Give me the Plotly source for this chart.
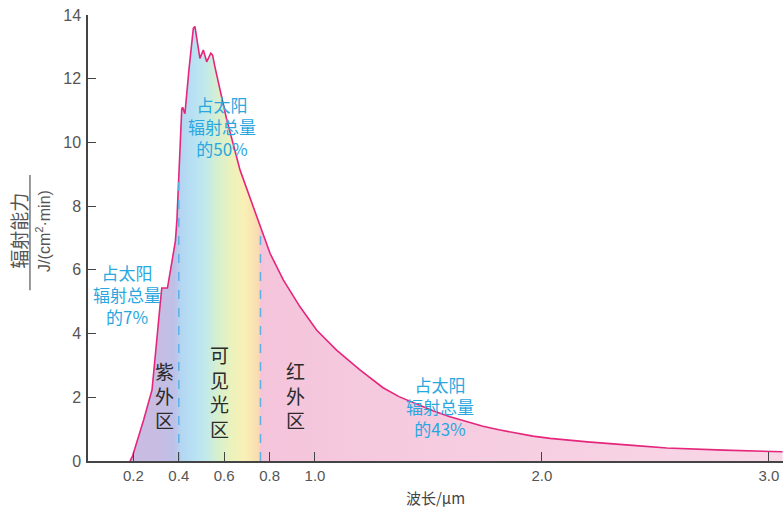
import numpy as np
import plotly.graph_objects as go

# ---- data ----
wavelength = [0.185, 0.195, 0.245, 0.282, 0.317, 0.325, 0.35, 0.369, 0.385, 0.392,
              0.405, 0.413, 0.417, 0.427, 0.445, 0.464, 0.471, 0.493, 0.508, 0.523,
              0.541, 0.549, 0.559, 0.589, 0.61, 0.67, 0.73, 0.758, 0.802, 0.861,
              0.934, 1.007, 1.095, 1.198, 1.30, 1.37, 1.448, 1.52, 1.595, 1.67,
              1.74, 1.81, 1.89, 1.96, 2.036, 2.2, 2.4, 2.55, 2.8, 3.06]
radiation = [0.0, 0.13, 1.29, 2.23, 4.85, 5.43, 5.43, 6.3, 6.9, 7.6,
             9.8, 11.05, 11.1, 10.9, 12.3, 13.58, 13.64, 12.64, 12.9, 12.53,
             12.8, 12.74, 12.38, 11.43, 10.75, 9.13, 7.95, 7.35, 6.52, 5.68,
             4.84, 4.11, 3.48, 2.86, 2.3, 2.02, 1.78, 1.58, 1.39, 1.23,
             1.09, 0.98, 0.87, 0.78, 0.71, 0.6, 0.49, 0.41, 0.34, 0.29]

x_ticks = [0.2, 0.4, 0.6, 0.8, 1.0, 2.0, 3.0]
x_ticktext = ["0.2", "0.4", "0.6", "0.8", "1.0", "2.0", "3.0"]
y_ticks = [0, 2, 4, 6, 8, 10, 12, 14]

band_bounds = [0.4, 0.76]

region_labels = ["紫<br>外<br>区", "可<br>见<br>光<br>区", "红<br>外<br>区"]
region_pos = [(0.339, 2.07), (0.58, 2.17), (0.912, 2.07)]
share_labels = ["占太阳<br>辐射总量<br>的7%", "占太阳<br>辐射总量<br>的50%", "占太阳<br>辐射总量<br>的43%"]
share_pos = [(0.172, 5.24), (0.59, 10.5), (1.55, 1.7)]

X_MAX = 3.062

# gradient stops (wavelength, colour)
grad = [(0.0, "#cbbde3"), (0.30, "#c8bce3"), (0.38, "#bec0e6"), (0.41, "#b3d6f2"),
        (0.47, "#b8e2f3"), (0.52, "#c2e9ea"), (0.57, "#d6efcf"), (0.63, "#ebf2bc"),
        (0.69, "#f9f0b6"), (0.75, "#f9dcb0"), (0.762, "#f4c4db"), (1.2, "#f5c9de"),
        (X_MAX, "#f8d8e7")]
colorscale = [[w / X_MAX, c] for w, c in grad]

fig = go.Figure()
fig.add_trace(go.Scatter(
    x=wavelength, y=radiation, mode="lines",
    line=dict(color="#e5267c", width=1.6),
    fill="tozeroy",
    fillgradient=dict(type="horizontal", colorscale=colorscale, start=0, stop=X_MAX),
    hoverinfo="skip", showlegend=False))

for b in band_bounds:
    top = float(np.interp(b, wavelength, radiation))
    fig.add_trace(go.Scatter(x=[b, b], y=[0, top], mode="lines",
                             line=dict(color="#5fb0e6", width=1.5, dash="dash"),
                             hoverinfo="skip", showlegend=False))

for t, (x, y) in zip(region_labels, region_pos):
    fig.add_annotation(x=x, y=y, text=t, showarrow=False,
                       font=dict(family="Noto Sans CJK SC", size=19, color="#2b2b2b"))
for t, (x, y) in zip(share_labels, share_pos):
    fig.add_annotation(x=x, y=y, text=t, showarrow=False,
                       font=dict(family="Noto Sans CJK SC", size=17, color="#2aa7df"))

# y-axis title as a fraction
fig.add_annotation(xref="paper", yref="paper", x=-0.0993, y=0.516, xanchor="center", yanchor="middle",
                   text="辐射能力", textangle=-90, showarrow=False,
                   font=dict(family="Noto Sans CJK SC", size=19, color="#555"))
fig.add_annotation(xref="paper", yref="paper", x=-0.0647, y=0.516, xanchor="center", yanchor="middle",
                   text="J/(cm<sup>2</sup>·min)", textangle=-90, showarrow=False,
                   font=dict(family="Liberation Sans", size=16, color="#555"))
fig.add_shape(type="line", xref="paper", yref="paper", x0=-0.0835, x1=-0.0835, y0=0.383, y1=0.641,
              line=dict(color="#555", width=1.2))

fig.update_layout(
    width=783, height=512,
    margin=dict(l=88, r=0, t=15, b=51),
    paper_bgcolor="white", plot_bgcolor="white",
    font=dict(family="Liberation Sans", color="#555"),
    xaxis=dict(range=[0, X_MAX], tickvals=x_ticks, ticktext=x_ticktext, automargin=False,
               ticks="inside", ticklen=9, tickcolor="#444", tickwidth=1,
               showline=True, linecolor="#444", linewidth=1.5, showgrid=False, zeroline=False,
               tickfont=dict(size=15, color="#555"),
               title=dict(text="波长/μm", font=dict(family="Noto Sans CJK SC", size=15, color="#444"),
                          standoff=11)),
    yaxis=dict(range=[0, 14], tickvals=y_ticks, automargin=False,
               ticks="inside", ticklen=8, tickcolor="#444", tickwidth=1,
               showline=True, linecolor="#444", linewidth=1.5, showgrid=False, zeroline=False,
               tickfont=dict(size=16, color="#555"), ticklabelstandoff=2),
)

fig.write_html("out.html", config={"displayModeBar": False},
               post_script="document.body.style.margin='0';")
